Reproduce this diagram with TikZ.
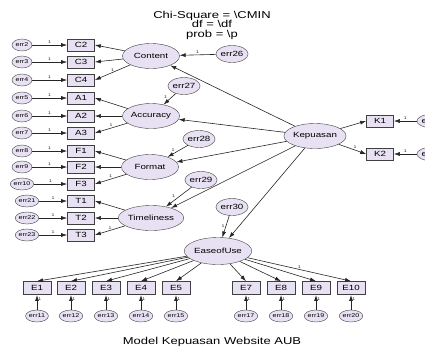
\documentclass[tikz,border=0pt]{standalone}
\usepackage{fontspec}
\setmainfont{Liberation Sans}[FakeStretch=1.3]
\usetikzlibrary{shapes.geometric,arrows.meta}
\definecolor{lav}{RGB}{232,225,243}
\begin{document}
\begin{tikzpicture}[
    x=1pt, y=-1pt, % pixel grid of the reference
    >={Latex[length=6pt,width=4pt]},
    latent/.style={ellipse,draw=black!75,fill=lav,minimum width=57pt,minimum height=25pt,inner sep=0pt,font=\fontsize{7.5}{8}\selectfont},
    observed/.style={rectangle,draw=black!75,line width=0.7pt,fill=lav,minimum width=27pt,minimum height=12pt,inner sep=0pt,font=\fontsize{7.5}{8}\selectfont},
    errsmall/.style={ellipse,draw=black!75,fill=lav,minimum width=20pt,minimum height=12pt,inner sep=0pt,font=\fontsize{5.5}{6}\selectfont},
    errbig/.style={ellipse,draw=black!75,fill=lav,minimum width=32pt,minimum height=17pt,inner sep=0pt,font=\fontsize{7.5}{8}\selectfont},
    one/.style={font=\fontsize{4}{4}\selectfont,inner sep=1pt},
    conn/.style={->,black!85,line width=0.6pt}
]
    \useasboundingbox (0,0) rectangle (425,349);

    % Fit text and caption
    \node[font=\fontsize{10}{9.5}\selectfont, align=center] (fit) at (212,25) {Chi-Square = \textbackslash CMIN\\df = \textbackslash df\\prob = \textbackslash p};
    \node[font=\fontsize{10}{12}\selectfont] (caption) at (212,342) {Model Kepuasan Website AUB};

    % Latent variables
    \node[latent] (content) at (151,56) {Content};
    \node[latent] (accuracy) at (151,116) {Accuracy};
    \node[latent] (format) at (150,167) {Format};
    \node[latent] (timeliness) at (151,218) {Timeliness};
    \node[latent] (kepuasan) at (315,136) {Kepuasan};
    \node[latent, minimum width=66pt, minimum height=27pt] (easeofuse) at (218,251) {EaseofUse};

    % Left indicators with their errors
    \foreach \ind/\err/\y/\ex in {C2/err2/45/22, C3/err3/62/22, C4/err4/80/22,
        A1/err5/98/22, A2/err6/116/22, A3/err7/133/22,
        F1/err8/151/22, F2/err9/167/22, F3/err10/184/22,
        T1/err21/201/27, T2/err22/218/27, T3/err23/235/27} {
        \node[observed] (\ind) at (81,\y) {\ind};
        \node[errsmall] (\err) at (\ex,\y) {\err};
        \draw[conn] (\err) -- node[one,above]{1} (\ind);
    }
    \foreach \lat/\a/\b/\c in {content/C2/C3/C4, accuracy/A1/A2/A3, format/F1/F2/F3, timeliness/T1/T2/T3} {
        \draw[conn] (\lat) -- (\a.east);
        \draw[conn] (\lat) -- (\b.east);
        \draw[conn] (\lat) -- node[one,above]{1} (\c.east);
    }

    % Disturbances
    \node[errbig] (err26) at (232,54) {err26};
    \node[errbig] (err27) at (184,86) {err27};
    \node[errbig] (err28) at (199,139) {err28};
    \node[errbig] (err29) at (201,180) {err29};
    \node[errbig] (err30) at (232,207) {err30};
    \draw[conn] (err26) -- node[one,above]{1} (content);
    \draw[conn] (err27) -- node[one,above left,pos=0.6]{1} (accuracy);
    \draw[conn] (err28) -- node[one,above left,pos=0.6]{1} (format);
    \draw[conn] (err29) -- node[one,above left,pos=0.6]{1} (timeliness);
    \draw[conn] (err30) -- node[one,left]{1} (easeofuse);
    \foreach \lat in {content,accuracy,format,timeliness,easeofuse}
        \draw[conn] (kepuasan) -- (\lat);

    % Kepuasan indicators
    \node[observed] (K1) at (380,121) {K1};
    \node[observed] (K2) at (380,154) {K2};
    \node[errbig, minimum height=14pt] (err24) at (433,121) {err24};
    \node[errbig, minimum height=14pt] (err25) at (433,154) {err25};
    \draw[conn] (kepuasan) -- (K1.west);
    \draw[conn] (kepuasan) -- node[one,above,pos=0.6]{1} (K2.west);
    \draw[conn] (err24) -- node[one,above]{1} (K1);
    \draw[conn] (err25) -- node[one,above]{1} (K2);

    % EaseofUse indicators
    \foreach \ind/\err/\x in {E1/err11/37, E2/err12/71, E3/err13/106, E4/err14/141, E5/err15/176,
        E7/err17/246, E8/err18/281, E9/err19/316, E10/err20/351} {
        \node[observed, minimum width=28pt, minimum height=13pt] (\ind) at (\x,288) {\ind};
        \node[errsmall, minimum width=22pt] (\err) at (\x,316) {\err};
        \draw[conn, line width=0.9pt] (\err) -- node[one,right,pos=0.7]{1} (\ind);
    }
    \foreach \ind in {E1,E2,E3,E4,E5,E7,E8,E9}
        \draw[conn] (easeofuse) -- (\ind.north);
    \draw[conn] (easeofuse) -- node[one,above]{1} (E10.north);
\end{tikzpicture}
\end{document}
